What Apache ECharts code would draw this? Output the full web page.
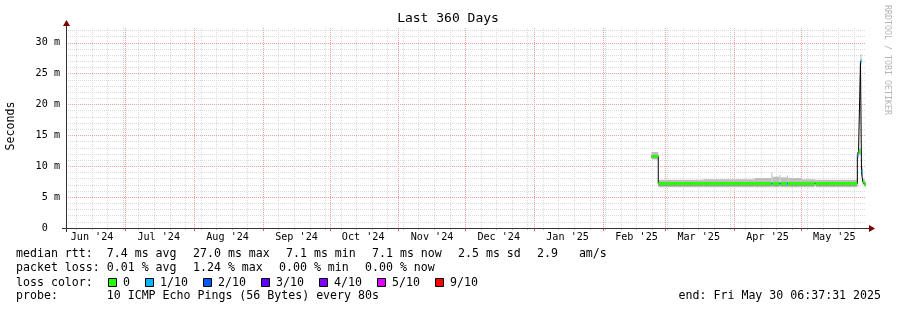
<!DOCTYPE html>
<html>
<head>
<meta charset="utf-8">
<script src="https://cdn.jsdelivr.net/npm/echarts@6/dist/echarts.min.js"></script>
<style>
  html, body { margin: 0; padding: 0; background: #fff; }
  #chart { width: 897px; height: 310px; }
</style>
</head>
<body>
<div id="chart"></div>
<script>
// time range of the graph
const startTime = '2024-06-04 06:37:31'
const endTime = '2025-05-30 06:37:31'

// major grid (month starts) and month labels (mid-month)
const monthStarts = ['2024-07-01', '2024-08-01', '2024-09-01', '2024-10-01', '2024-11-01', '2024-12-01',
  '2025-01-01', '2025-02-01', '2025-03-01', '2025-04-01', '2025-05-01']
const monthLabelDates = ['2024-06-16', '2024-07-16', '2024-08-16', '2024-09-16', '2024-10-16', '2024-11-16',
  '2024-12-16', '2025-01-16', '2025-02-16', '2025-03-16', '2025-04-16', '2025-05-16']
const monthLabels = ["Jun '24", "Jul '24", "Aug '24", "Sep '24", "Oct '24", "Nov '24",
  "Dec '24", "Jan '25", "Feb '25", "Mar '25", "Apr '25", "May '25"]
// minor grid: every sunday
const firstSunday = '2024-06-09'

// smoke: [from, to, min, q1, q3, max] in ms
const smokeRows = [
  ['2025-02-22 18:00', '2025-02-25 19:00', 11.1, 11.3, 11.8, 12.3],
  ['2025-02-25 19:00', '2025-03-18 00:00', 6.6, 6.8, 7.3, 7.8],
  ['2025-03-18 00:00', '2025-04-10 00:00', 6.6, 6.8, 7.3, 7.9],
  ['2025-04-10 00:00', '2025-04-17 16:00', 6.6, 6.8, 7.3, 8.1],
  ['2025-04-17 16:00', '2025-04-18 03:00', 6.6, 6.8, 7.4, 9.0],
  ['2025-04-18 03:00', '2025-04-21 08:00', 6.6, 6.8, 7.3, 8.3],
  ['2025-04-21 08:00', '2025-04-21 19:00', 6.6, 6.8, 7.4, 8.6],
  ['2025-04-21 19:00', '2025-04-24 19:00', 6.6, 6.8, 7.3, 8.2],
  ['2025-04-24 19:00', '2025-04-25 06:00', 6.6, 6.8, 7.4, 8.5],
  ['2025-04-25 06:00', '2025-05-01 00:00', 6.6, 6.8, 7.3, 8.1],
  ['2025-05-01 00:00', '2025-05-07 03:00', 6.6, 6.8, 7.3, 7.9],
  ['2025-05-07 03:00', '2025-05-07 14:00', 7.1, 7.2, 7.5, 7.9],
  ['2025-05-07 14:00', '2025-05-26 09:00', 6.6, 6.8, 7.3, 7.8],
  ['2025-05-26 09:00', '2025-05-26 22:00', 11.2, 11.5, 12.0, 12.3],
  ['2025-05-26 22:00', '2025-05-27 19:00', 11.8, 12.1, 12.6, 12.9],
  ['2025-05-27 19:00', '2025-05-28 06:00', 26.4, 26.8, 27.4, 28.2],
  ['2025-05-28 06:00', '2025-05-28 19:00', 8.4, 8.8, 9.5, 9.9],
  ['2025-05-28 19:00', '2025-05-29 14:00', 7.0, 7.2, 7.7, 8.0],
  ['2025-05-29 14:00', '2025-05-30 06:37', 6.7, 6.9, 7.3, 7.5]
]

// median rtt: [from, to, ms, loss index]
const medianRows = [
  ['2025-02-22 18:00', '2025-02-25 19:00', 11.6, 0],
  ['2025-02-25 19:00', '2025-04-17 16:00', 7.2, 0],
  ['2025-04-17 16:00', '2025-04-18 03:00', 7.2, 1],
  ['2025-04-18 03:00', '2025-04-21 08:00', 7.2, 0],
  ['2025-04-21 08:00', '2025-04-21 19:00', 7.2, 1],
  ['2025-04-21 19:00', '2025-04-24 19:00', 7.2, 0],
  ['2025-04-24 19:00', '2025-04-25 06:00', 7.2, 1],
  ['2025-04-25 06:00', '2025-05-07 03:00', 7.2, 0],
  ['2025-05-07 03:00', '2025-05-07 14:00', 7.4, 0],
  ['2025-05-07 14:00', '2025-05-26 09:00', 7.2, 0],
  ['2025-05-26 09:00', '2025-05-26 22:00', 11.8, 1],
  ['2025-05-26 22:00', '2025-05-27 19:00', 12.4, 0],
  ['2025-05-27 19:00', '2025-05-28 06:00', 27.0, 1],
  ['2025-05-28 06:00', '2025-05-28 19:00', 9.2, 1],
  ['2025-05-28 19:00', '2025-05-29 14:00', 7.5, 0],
  ['2025-05-29 14:00', '2025-05-30 06:37', 7.1, 0]
]

const lossLabels = ['0', '1/10', '2/10', '3/10', '4/10', '5/10', '9/10']
const lossColors = ['#26ff00', '#00b8ff', '#0059ff', '#5e00ff', '#7e00ff', '#dd00ff', '#ff0000']

const rttItems = ['median rtt:  7.4 ms avg', '27.0 ms max', '7.1 ms min', '7.1 ms now', '2.5 ms sd', '2.9   am/s']
const lossItems = ['packet loss: 0.01 % avg', '1.24 % max', '0.00 % min', '0.00 % now']
const probeText = 'probe:       10 ICMP Echo Pings (56 Bytes) every 80s'
const endText = 'end: Fri May 30 06:37:31 2025'

const MONO = 'DejaVu Sans Mono'
const CH = 7 // legend char advance
const GLUE = 16
const LEG_X = 16

function ts(s) {
  const [d, t = '00:00:00'] = s.split(' ')
  const [Y, M, D] = d.split('-').map(Number)
  const [h, mi, se = 0] = t.split(':').map(Number)
  return new Date(Y, M - 1, D, h, mi, se).getTime()
}

const xMin = ts(startTime)
const xMax = ts(endTime)
const weekLines = []
{
  const [Y, M, D] = firstSunday.split('-').map(Number)
  for (let k = 0; ; k++) {
    const t = new Date(Y, M - 1, D + 7 * k).getTime()
    if (t > xMax) break
    weekLines.push(t)
  }
}
const labelMap = {}
monthLabelDates.forEach((d, i) => { labelMap[ts(d)] = monthLabels[i] })

const smokeData = smokeRows.map(r => [ts(r[0]), ts(r[1]), r[2], r[3], r[4], r[5]])
const medianData = medianRows.map(r => [ts(r[0]), ts(r[1]), r[2], r[3]])
const medianLine = []
medianRows.forEach(r => { medianLine.push([ts(r[0]), r[2]], [ts(r[1]), r[2]]) })

// legend texts
const graphics = []
function text(x, y, str, extra) {
  graphics.push(Object.assign({
    type: 'text', x: x, y: y, silent: true,
    style: { text: str, font: '11.6px "' + MONO + '"', fill: '#000', textVerticalAlign: 'middle', textAlign: 'left' }
  }, extra || {}))
}
function itemsLine(items, y) {
  let x = LEG_X
  items.forEach(s => { text(x, y, s); x += s.length * CH + GLUE })
}
itemsLine(rttItems, 254)
itemsLine(lossItems, 268)
{
  let x = LEG_X
  const head = 'loss color:'
  text(x, 282.5, head)
  x += head.length * CH + GLUE
  lossLabels.forEach((l, i) => {
    graphics.push({
      type: 'rect', silent: true,
      shape: { x: x - 0.5, y: 278.5, width: 8, height: 8 },
      style: { fill: lossColors[i], stroke: '#000', lineWidth: 1 }
    })
    text(x + 14, 282.5, l)
    x += 14 + l.length * CH + GLUE
  })
}
text(LEG_X, 296, probeText)
graphics.push({
  type: 'text', x: 881, y: 296, silent: true,
  style: { text: endText, font: '11.6px "' + MONO + '"', fill: '#000', textVerticalAlign: 'middle', textAlign: 'right' }
})
// title, unit, watermark
graphics.push({
  type: 'text', x: 448, y: 19, silent: true,
  style: { text: 'Last 360 Days', font: '13px "' + MONO + '"', fill: '#000', textAlign: 'center', textVerticalAlign: 'middle' }
})
graphics.push({
  type: 'text', x: 11, y: 126, rotation: Math.PI / 2, silent: true,
  style: { text: 'Seconds', font: '11.6px "' + MONO + '"', fill: '#000', textAlign: 'center', textVerticalAlign: 'middle' }
})
graphics.push({
  type: 'text', x: 887, y: 5, rotation: -Math.PI / 2, silent: true,
  style: { text: 'RRDTOOL / TOBI OETIKER', font: '8.3px "' + MONO + '"', fill: '#b4b4b4', textAlign: 'left', textVerticalAlign: 'middle' }
})
// axis lines and arrows
const AXIS = '#333'
const ARROW = '#7f0000'
graphics.push(
  { type: 'line', silent: true, shape: { x1: 62, y1: 228.5, x2: 870, y2: 228.5 }, style: { stroke: AXIS, lineWidth: 1 } },
  { type: 'line', silent: true, shape: { x1: 66.5, y1: 232, x2: 66.5, y2: 24 }, style: { stroke: AXIS, lineWidth: 1 } },
  { type: 'polygon', silent: true, shape: { points: [[869, 225], [875, 228.5], [869, 232]] }, style: { fill: ARROW } },
  { type: 'polygon', silent: true, shape: { points: [[63, 26], [66.5, 20], [70, 26]] }, style: { fill: ARROW } }
)
graphics.forEach(g => { g.z = 100 })

const chart = echarts.init(document.getElementById('chart'), null, { renderer: 'canvas' })

const gridGrey = { color: '#dadada', width: 1, type: [1, 1] }
const gridRed = { color: '#f2a0a0', width: 1, type: [1, 1] }

chart.setOption({
  animation: false,
  backgroundColor: '#fff',
  grid: { left: 66, top: 28, width: 800, height: 200, containLabel: false, outerBoundsMode: 'none' },
  xAxis: [
    {
      type: 'value', min: xMin, max: xMax, position: 'bottom',
      axisLine: { show: false },
      axisTick: { show: true, customValues: monthStarts.map(d => ts(d)), length: 3, lineStyle: { color: '#e06060' } },
      splitLine: { show: true, lineStyle: gridRed },
      axisLabel: {
        show: true, customValues: monthLabelDates.map(d => ts(d)), margin: 4,
        fontFamily: MONO, fontSize: 10.15, color: '#000',
        formatter: v => labelMap[v] || ''
      },
      z: 2
    },
    {
      type: 'value', min: xMin, max: xMax, position: 'bottom',
      axisLine: { show: false },
      axisTick: { show: true, customValues: weekLines, length: 2, lineStyle: { color: '#c0c0c0' } },
      splitLine: { show: true, lineStyle: gridGrey },
      axisLabel: { show: false },
      z: 1
    }
  ],
  yAxis: [
    {
      type: 'value', min: 0, max: 32.4, interval: 5, position: 'left',
      axisLine: { show: false }, axisTick: { show: false },
      splitLine: { show: true, showMinLine: false, showMaxLine: false, lineStyle: gridRed },
      axisLabel: {
        margin: 6, fontFamily: MONO, fontSize: 10.15, color: '#000', showMaxLabel: false,
        formatter: v => (v === 0 ? '0  ' : v + ' m')
      },
      z: 2
    },
    {
      type: 'value', min: 0, max: 32.4, interval: 1, position: 'left',
      axisLine: { show: false }, axisTick: { show: false }, axisLabel: { show: false },
      splitLine: { show: true, showMinLine: false, showMaxLine: false, lineStyle: gridGrey },
      z: 1
    }
  ],
  series: [
    {
      type: 'custom', name: 'smoke', xAxisIndex: 0, yAxisIndex: 0, clip: true, z: 3,
      encode: { x: [0, 1], y: [2, 3, 4, 5] },
      data: smokeData,
      renderItem: (params, api) => {
        const a = api.coord([api.value(0), api.value(5)])
        const b = api.coord([api.value(1), api.value(2)])
        const c = api.coord([api.value(0), api.value(4)])
        const d = api.coord([api.value(1), api.value(3)])
        return {
          type: 'group',
          children: [
            { type: 'rect', shape: { x: a[0], y: a[1], width: b[0] - a[0], height: b[1] - a[1] }, style: { fill: '#bebebe' } },
            { type: 'rect', shape: { x: c[0], y: c[1], width: d[0] - c[0], height: d[1] - c[1] }, style: { fill: '#9c9c9c' } }
          ]
        }
      }
    },
    {
      type: 'line', name: 'median', xAxisIndex: 0, yAxisIndex: 0, z: 4,
      data: medianLine, showSymbol: false, symbol: 'none',
      lineStyle: { color: '#000', width: 1 }
    },
    {
      type: 'custom', name: 'loss', xAxisIndex: 0, yAxisIndex: 0, clip: true, z: 5,
      encode: { x: [0, 1], y: 2 },
      data: medianData,
      renderItem: (params, api) => {
        const a = api.coord([api.value(0), api.value(2)])
        const b = api.coord([api.value(1), api.value(2)])
        return {
          type: 'rect',
          shape: { x: a[0], y: a[1] - 1.5, width: b[0] - a[0], height: 3 },
          style: { fill: lossColors[api.value(3)] }
        }
      }
    }
  ],
  graphic: graphics
})
</script>
</body>
</html>
